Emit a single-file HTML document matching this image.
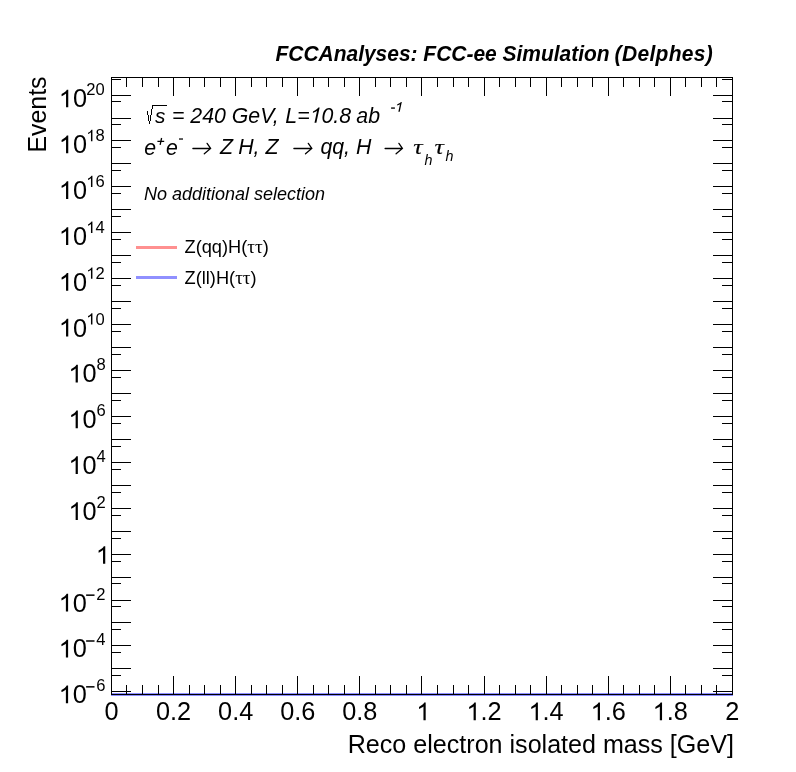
<!DOCTYPE html>
<html><head><meta charset="utf-8"><title>plot</title>
<style>html,body{margin:0;padding:0;background:#fff;}body{width:796px;height:772px;overflow:hidden;}svg{display:block;will-change:transform;-webkit-font-smoothing:antialiased;}text{font-family:"Liberation Sans",sans-serif;fill:#000;}.i{font-style:italic;}.b{font-weight:bold;}.sy{font-family:"Liberation Serif",serif;}</style>
</head><body>
<svg width="796" height="772" viewBox="0 0 796 772">
<defs><path id="one" d="M763 0H583V1147Q518 1085 412.5 1023T223 930V1104Q373 1175 485.5 1275.5T647 1472H763Z"/></defs>
<rect x="0" y="0" width="796" height="772" fill="#fff"/>
<g shape-rendering="crispEdges">
<rect x="111" y="693" width="622" height="3" fill="#ff9090"/>
<rect x="111" y="693" width="622" height="3" fill="#8c8cff"/>
<rect x="111" y="77" width="622" height="1" fill="#000"/>
<rect x="111" y="694" width="622" height="1" fill="#000"/>
<rect x="111" y="77" width="1" height="618" fill="#000"/>
<rect x="732" y="77" width="1" height="618" fill="#000"/>
<rect x="126" y="685" width="1" height="10" fill="#000"/>
<rect x="126" y="77" width="1" height="10" fill="#000"/>
<rect x="142" y="685" width="1" height="10" fill="#000"/>
<rect x="142" y="77" width="1" height="10" fill="#000"/>
<rect x="158" y="685" width="1" height="10" fill="#000"/>
<rect x="158" y="77" width="1" height="10" fill="#000"/>
<rect x="173" y="676" width="1" height="19" fill="#000"/>
<rect x="173" y="77" width="1" height="19" fill="#000"/>
<rect x="189" y="685" width="1" height="10" fill="#000"/>
<rect x="189" y="77" width="1" height="10" fill="#000"/>
<rect x="204" y="685" width="1" height="10" fill="#000"/>
<rect x="204" y="77" width="1" height="10" fill="#000"/>
<rect x="220" y="685" width="1" height="10" fill="#000"/>
<rect x="220" y="77" width="1" height="10" fill="#000"/>
<rect x="235" y="676" width="1" height="19" fill="#000"/>
<rect x="235" y="77" width="1" height="19" fill="#000"/>
<rect x="251" y="685" width="1" height="10" fill="#000"/>
<rect x="251" y="77" width="1" height="10" fill="#000"/>
<rect x="266" y="685" width="1" height="10" fill="#000"/>
<rect x="266" y="77" width="1" height="10" fill="#000"/>
<rect x="282" y="685" width="1" height="10" fill="#000"/>
<rect x="282" y="77" width="1" height="10" fill="#000"/>
<rect x="297" y="676" width="1" height="19" fill="#000"/>
<rect x="297" y="77" width="1" height="19" fill="#000"/>
<rect x="313" y="685" width="1" height="10" fill="#000"/>
<rect x="313" y="77" width="1" height="10" fill="#000"/>
<rect x="328" y="685" width="1" height="10" fill="#000"/>
<rect x="328" y="77" width="1" height="10" fill="#000"/>
<rect x="344" y="685" width="1" height="10" fill="#000"/>
<rect x="344" y="77" width="1" height="10" fill="#000"/>
<rect x="359" y="676" width="1" height="19" fill="#000"/>
<rect x="359" y="77" width="1" height="19" fill="#000"/>
<rect x="375" y="685" width="1" height="10" fill="#000"/>
<rect x="375" y="77" width="1" height="10" fill="#000"/>
<rect x="390" y="685" width="1" height="10" fill="#000"/>
<rect x="390" y="77" width="1" height="10" fill="#000"/>
<rect x="406" y="685" width="1" height="10" fill="#000"/>
<rect x="406" y="77" width="1" height="10" fill="#000"/>
<rect x="421" y="676" width="1" height="19" fill="#000"/>
<rect x="421" y="77" width="1" height="19" fill="#000"/>
<rect x="437" y="685" width="1" height="10" fill="#000"/>
<rect x="437" y="77" width="1" height="10" fill="#000"/>
<rect x="453" y="685" width="1" height="10" fill="#000"/>
<rect x="453" y="77" width="1" height="10" fill="#000"/>
<rect x="468" y="685" width="1" height="10" fill="#000"/>
<rect x="468" y="77" width="1" height="10" fill="#000"/>
<rect x="484" y="676" width="1" height="19" fill="#000"/>
<rect x="484" y="77" width="1" height="19" fill="#000"/>
<rect x="499" y="685" width="1" height="10" fill="#000"/>
<rect x="499" y="77" width="1" height="10" fill="#000"/>
<rect x="515" y="685" width="1" height="10" fill="#000"/>
<rect x="515" y="77" width="1" height="10" fill="#000"/>
<rect x="530" y="685" width="1" height="10" fill="#000"/>
<rect x="530" y="77" width="1" height="10" fill="#000"/>
<rect x="546" y="676" width="1" height="19" fill="#000"/>
<rect x="546" y="77" width="1" height="19" fill="#000"/>
<rect x="561" y="685" width="1" height="10" fill="#000"/>
<rect x="561" y="77" width="1" height="10" fill="#000"/>
<rect x="577" y="685" width="1" height="10" fill="#000"/>
<rect x="577" y="77" width="1" height="10" fill="#000"/>
<rect x="592" y="685" width="1" height="10" fill="#000"/>
<rect x="592" y="77" width="1" height="10" fill="#000"/>
<rect x="608" y="676" width="1" height="19" fill="#000"/>
<rect x="608" y="77" width="1" height="19" fill="#000"/>
<rect x="623" y="685" width="1" height="10" fill="#000"/>
<rect x="623" y="77" width="1" height="10" fill="#000"/>
<rect x="639" y="685" width="1" height="10" fill="#000"/>
<rect x="639" y="77" width="1" height="10" fill="#000"/>
<rect x="654" y="685" width="1" height="10" fill="#000"/>
<rect x="654" y="77" width="1" height="10" fill="#000"/>
<rect x="670" y="676" width="1" height="19" fill="#000"/>
<rect x="670" y="77" width="1" height="19" fill="#000"/>
<rect x="685" y="685" width="1" height="10" fill="#000"/>
<rect x="685" y="77" width="1" height="10" fill="#000"/>
<rect x="701" y="685" width="1" height="10" fill="#000"/>
<rect x="701" y="77" width="1" height="10" fill="#000"/>
<rect x="716" y="685" width="1" height="10" fill="#000"/>
<rect x="716" y="77" width="1" height="10" fill="#000"/>
<rect x="111" y="691" width="20" height="1" fill="#000"/>
<rect x="713" y="691" width="20" height="1" fill="#000"/>
<rect x="111" y="675" width="10" height="1" fill="#000"/>
<rect x="722" y="675" width="11" height="1" fill="#000"/>
<rect x="111" y="668" width="20" height="1" fill="#000"/>
<rect x="713" y="668" width="20" height="1" fill="#000"/>
<rect x="111" y="652" width="10" height="1" fill="#000"/>
<rect x="722" y="652" width="11" height="1" fill="#000"/>
<rect x="111" y="645" width="20" height="1" fill="#000"/>
<rect x="713" y="645" width="20" height="1" fill="#000"/>
<rect x="111" y="629" width="10" height="1" fill="#000"/>
<rect x="722" y="629" width="11" height="1" fill="#000"/>
<rect x="111" y="622" width="20" height="1" fill="#000"/>
<rect x="713" y="622" width="20" height="1" fill="#000"/>
<rect x="111" y="606" width="10" height="1" fill="#000"/>
<rect x="722" y="606" width="11" height="1" fill="#000"/>
<rect x="111" y="600" width="20" height="1" fill="#000"/>
<rect x="713" y="600" width="20" height="1" fill="#000"/>
<rect x="111" y="583" width="10" height="1" fill="#000"/>
<rect x="722" y="583" width="11" height="1" fill="#000"/>
<rect x="111" y="577" width="20" height="1" fill="#000"/>
<rect x="713" y="577" width="20" height="1" fill="#000"/>
<rect x="111" y="561" width="10" height="1" fill="#000"/>
<rect x="722" y="561" width="11" height="1" fill="#000"/>
<rect x="111" y="554" width="20" height="1" fill="#000"/>
<rect x="713" y="554" width="20" height="1" fill="#000"/>
<rect x="111" y="538" width="10" height="1" fill="#000"/>
<rect x="722" y="538" width="11" height="1" fill="#000"/>
<rect x="111" y="531" width="20" height="1" fill="#000"/>
<rect x="713" y="531" width="20" height="1" fill="#000"/>
<rect x="111" y="515" width="10" height="1" fill="#000"/>
<rect x="722" y="515" width="11" height="1" fill="#000"/>
<rect x="111" y="508" width="20" height="1" fill="#000"/>
<rect x="713" y="508" width="20" height="1" fill="#000"/>
<rect x="111" y="492" width="10" height="1" fill="#000"/>
<rect x="722" y="492" width="11" height="1" fill="#000"/>
<rect x="111" y="485" width="20" height="1" fill="#000"/>
<rect x="713" y="485" width="20" height="1" fill="#000"/>
<rect x="111" y="469" width="10" height="1" fill="#000"/>
<rect x="722" y="469" width="11" height="1" fill="#000"/>
<rect x="111" y="462" width="20" height="1" fill="#000"/>
<rect x="713" y="462" width="20" height="1" fill="#000"/>
<rect x="111" y="446" width="10" height="1" fill="#000"/>
<rect x="722" y="446" width="11" height="1" fill="#000"/>
<rect x="111" y="439" width="20" height="1" fill="#000"/>
<rect x="713" y="439" width="20" height="1" fill="#000"/>
<rect x="111" y="423" width="10" height="1" fill="#000"/>
<rect x="722" y="423" width="11" height="1" fill="#000"/>
<rect x="111" y="416" width="20" height="1" fill="#000"/>
<rect x="713" y="416" width="20" height="1" fill="#000"/>
<rect x="111" y="400" width="10" height="1" fill="#000"/>
<rect x="722" y="400" width="11" height="1" fill="#000"/>
<rect x="111" y="393" width="20" height="1" fill="#000"/>
<rect x="713" y="393" width="20" height="1" fill="#000"/>
<rect x="111" y="377" width="10" height="1" fill="#000"/>
<rect x="722" y="377" width="11" height="1" fill="#000"/>
<rect x="111" y="370" width="20" height="1" fill="#000"/>
<rect x="713" y="370" width="20" height="1" fill="#000"/>
<rect x="111" y="354" width="10" height="1" fill="#000"/>
<rect x="722" y="354" width="11" height="1" fill="#000"/>
<rect x="111" y="347" width="20" height="1" fill="#000"/>
<rect x="713" y="347" width="20" height="1" fill="#000"/>
<rect x="111" y="331" width="10" height="1" fill="#000"/>
<rect x="722" y="331" width="11" height="1" fill="#000"/>
<rect x="111" y="324" width="20" height="1" fill="#000"/>
<rect x="713" y="324" width="20" height="1" fill="#000"/>
<rect x="111" y="308" width="10" height="1" fill="#000"/>
<rect x="722" y="308" width="11" height="1" fill="#000"/>
<rect x="111" y="301" width="20" height="1" fill="#000"/>
<rect x="713" y="301" width="20" height="1" fill="#000"/>
<rect x="111" y="285" width="10" height="1" fill="#000"/>
<rect x="722" y="285" width="11" height="1" fill="#000"/>
<rect x="111" y="278" width="20" height="1" fill="#000"/>
<rect x="713" y="278" width="20" height="1" fill="#000"/>
<rect x="111" y="262" width="10" height="1" fill="#000"/>
<rect x="722" y="262" width="11" height="1" fill="#000"/>
<rect x="111" y="255" width="20" height="1" fill="#000"/>
<rect x="713" y="255" width="20" height="1" fill="#000"/>
<rect x="111" y="239" width="10" height="1" fill="#000"/>
<rect x="722" y="239" width="11" height="1" fill="#000"/>
<rect x="111" y="232" width="20" height="1" fill="#000"/>
<rect x="713" y="232" width="20" height="1" fill="#000"/>
<rect x="111" y="216" width="10" height="1" fill="#000"/>
<rect x="722" y="216" width="11" height="1" fill="#000"/>
<rect x="111" y="209" width="20" height="1" fill="#000"/>
<rect x="713" y="209" width="20" height="1" fill="#000"/>
<rect x="111" y="193" width="10" height="1" fill="#000"/>
<rect x="722" y="193" width="11" height="1" fill="#000"/>
<rect x="111" y="186" width="20" height="1" fill="#000"/>
<rect x="713" y="186" width="20" height="1" fill="#000"/>
<rect x="111" y="170" width="10" height="1" fill="#000"/>
<rect x="722" y="170" width="11" height="1" fill="#000"/>
<rect x="111" y="163" width="20" height="1" fill="#000"/>
<rect x="713" y="163" width="20" height="1" fill="#000"/>
<rect x="111" y="147" width="10" height="1" fill="#000"/>
<rect x="722" y="147" width="11" height="1" fill="#000"/>
<rect x="111" y="140" width="20" height="1" fill="#000"/>
<rect x="713" y="140" width="20" height="1" fill="#000"/>
<rect x="111" y="124" width="10" height="1" fill="#000"/>
<rect x="722" y="124" width="11" height="1" fill="#000"/>
<rect x="111" y="118" width="20" height="1" fill="#000"/>
<rect x="713" y="118" width="20" height="1" fill="#000"/>
<rect x="111" y="101" width="10" height="1" fill="#000"/>
<rect x="722" y="101" width="11" height="1" fill="#000"/>
<rect x="111" y="95" width="20" height="1" fill="#000"/>
<rect x="713" y="95" width="20" height="1" fill="#000"/>
<rect x="111" y="79" width="10" height="1" fill="#000"/>
<rect x="722" y="79" width="11" height="1" fill="#000"/>
</g>
<g shape-rendering="crispEdges">
<rect x="136" y="246" width="41" height="3" fill="#ff9090"/>
<rect x="136" y="276" width="41" height="3" fill="#9090ff"/>
</g>
<text transform="translate(275.50 61.00) scale(1 1.03)" font-size="20.97" class="b i">FCCAnalyses: FCC-ee Simulation</text>
<text transform="translate(614.60 61.00) scale(1 1.03)" font-size="21" class="b i" letter-spacing="0.33">(Delphes)</text>
<use href="#one" transform="translate(58.68 703.29) scale(0.01235 -0.01205)"/>
<text transform="translate(72.75 703.29) scale(1 1.015)" font-size="25.3">0</text>
<rect x="86.12" y="686.09" width="8.4" height="1.5" fill="#000"/>
<text transform="translate(96.37 691.29) scale(1 0.99)" font-size="16.6">6</text>
<use href="#one" transform="translate(58.68 657.45) scale(0.01235 -0.01205)"/>
<text transform="translate(72.75 657.45) scale(1 1.015)" font-size="25.3">0</text>
<rect x="86.12" y="640.25" width="8.4" height="1.5" fill="#000"/>
<text transform="translate(96.37 645.45) scale(1 0.99)" font-size="16.6">4</text>
<use href="#one" transform="translate(58.68 611.61) scale(0.01235 -0.01205)"/>
<text transform="translate(72.75 611.61) scale(1 1.015)" font-size="25.3">0</text>
<rect x="86.12" y="594.41" width="8.4" height="1.5" fill="#000"/>
<text transform="translate(96.37 599.61) scale(1 0.99)" font-size="16.6">2</text>
<use href="#one" transform="translate(95.83 563.87) scale(0.01235 -0.01205)"/>
<use href="#one" transform="translate(68.43 519.93) scale(0.01235 -0.01205)"/>
<text transform="translate(82.50 519.93) scale(1 1.015)" font-size="25.3">0</text>
<text transform="translate(96.57 507.93) scale(1 0.99)" font-size="16.6">2</text>
<use href="#one" transform="translate(68.43 474.09) scale(0.01235 -0.01205)"/>
<text transform="translate(82.50 474.09) scale(1 1.015)" font-size="25.3">0</text>
<text transform="translate(96.57 462.09) scale(1 0.99)" font-size="16.6">4</text>
<use href="#one" transform="translate(68.43 428.25) scale(0.01235 -0.01205)"/>
<text transform="translate(82.50 428.25) scale(1 1.015)" font-size="25.3">0</text>
<text transform="translate(96.57 416.25) scale(1 0.99)" font-size="16.6">6</text>
<use href="#one" transform="translate(68.43 382.41) scale(0.01235 -0.01205)"/>
<text transform="translate(82.50 382.41) scale(1 1.015)" font-size="25.3">0</text>
<text transform="translate(96.57 370.41) scale(1 0.99)" font-size="16.6">8</text>
<use href="#one" transform="translate(58.84 336.57) scale(0.01235 -0.01205)"/>
<text transform="translate(72.92 336.57) scale(1 1.015)" font-size="25.3">0</text>
<use href="#one" transform="translate(86.24 324.57) scale(0.00811 -0.00771)"/>
<text transform="translate(95.47 324.57) scale(1 0.99)" font-size="16.6">0</text>
<use href="#one" transform="translate(58.84 290.73) scale(0.01235 -0.01205)"/>
<text transform="translate(72.92 290.73) scale(1 1.015)" font-size="25.3">0</text>
<use href="#one" transform="translate(86.24 278.73) scale(0.00811 -0.00771)"/>
<text transform="translate(95.47 278.73) scale(1 0.99)" font-size="16.6">2</text>
<use href="#one" transform="translate(58.84 244.89) scale(0.01235 -0.01205)"/>
<text transform="translate(72.92 244.89) scale(1 1.015)" font-size="25.3">0</text>
<use href="#one" transform="translate(86.24 232.89) scale(0.00811 -0.00771)"/>
<text transform="translate(95.47 232.89) scale(1 0.99)" font-size="16.6">4</text>
<use href="#one" transform="translate(58.84 199.05) scale(0.01235 -0.01205)"/>
<text transform="translate(72.92 199.05) scale(1 1.015)" font-size="25.3">0</text>
<use href="#one" transform="translate(86.24 187.05) scale(0.00811 -0.00771)"/>
<text transform="translate(95.47 187.05) scale(1 0.99)" font-size="16.6">6</text>
<use href="#one" transform="translate(58.84 153.21) scale(0.01235 -0.01205)"/>
<text transform="translate(72.92 153.21) scale(1 1.015)" font-size="25.3">0</text>
<use href="#one" transform="translate(86.24 141.21) scale(0.00811 -0.00771)"/>
<text transform="translate(95.47 141.21) scale(1 0.99)" font-size="16.6">8</text>
<use href="#one" transform="translate(58.84 107.37) scale(0.01235 -0.01205)"/>
<text transform="translate(72.92 107.37) scale(1 1.015)" font-size="25.3">0</text>
<text transform="translate(86.24 95.37) scale(1 0.99)" font-size="16.6">20</text>
<text transform="translate(104.46 720.20) scale(1 1.015)" font-size="25.3">0</text>
<text transform="translate(155.99 720.20) scale(1 1.015)" font-size="25.3">0.2</text>
<text transform="translate(218.07 720.20) scale(1 1.015)" font-size="25.3">0.4</text>
<text transform="translate(280.15 720.20) scale(1 1.015)" font-size="25.3">0.6</text>
<text transform="translate(342.23 720.20) scale(1 1.015)" font-size="25.3">0.8</text>
<use href="#one" transform="translate(416.26 720.20) scale(0.01235 -0.01205)"/>
<use href="#one" transform="translate(466.39 720.20) scale(0.01235 -0.01205)"/>
<text transform="translate(480.47 720.20) scale(1 1.015)" font-size="25.3">.2</text>
<use href="#one" transform="translate(528.47 720.20) scale(0.01235 -0.01205)"/>
<text transform="translate(542.55 720.20) scale(1 1.015)" font-size="25.3">.4</text>
<use href="#one" transform="translate(590.55 720.20) scale(0.01235 -0.01205)"/>
<text transform="translate(604.63 720.20) scale(1 1.015)" font-size="25.3">.6</text>
<use href="#one" transform="translate(652.63 720.20) scale(0.01235 -0.01205)"/>
<text transform="translate(666.71 720.20) scale(1 1.015)" font-size="25.3">.8</text>
<text transform="translate(725.26 720.20) scale(1 1.015)" font-size="25.3">2</text>
<text transform="translate(734.00 752.80) scale(1 1.04)" font-size="25.1" text-anchor="end">Reco electron isolated mass [GeV]</text>
<text transform="translate(46.0,76.5) rotate(-90) scale(1 1.04)" font-size="24.9" text-anchor="end">Events</text>
<text x="155.00" y="123.20" font-size="20.8" class="i">s</text>
<text x="172.00" y="122.80" font-size="21.3" class="i">= 240 GeV,</text>
<text x="285.30" y="122.80" font-size="21.3" class="i">L=</text>
<use href="#one" transform="translate(308.40 122.80) skewX(-12) scale(0.01045 -0.01045)"/>
<text x="321.40" y="122.80" font-size="21.3" class="i">0.8</text>
<text x="356.30" y="122.80" font-size="21.3" class="i">ab</text>
<rect x="391.1" y="107.4" width="3.8" height="1.35" fill="#000"/>
<use href="#one" transform="translate(393.90 111.80) skewX(-12) scale(0.00764 -0.00664)"/>
<g shape-rendering="crispEdges" fill="#000"><rect x="152" y="105" width="15" height="1"/><rect x="152" y="105" width="1" height="4"/><rect x="151" y="109" width="1" height="6"/><rect x="150" y="115" width="1" height="6"/><rect x="149" y="121" width="1" height="3"/><rect x="148" y="115" width="1" height="6"/><rect x="147" y="111" width="1" height="4"/></g>
<text x="144.20" y="154.70" font-size="21.3" class="i">e</text>
<path d="M157.4 141.45 H164.2 M161.6 138.0 L160.15 144.9" fill="none" stroke="#000" stroke-width="1.3"/>
<text x="166.10" y="154.70" font-size="21.3" class="i">e</text>
<rect x="179.0" y="138.4" width="4.0" height="1.25" fill="#000"/>
<path d="M192.9 148.5 L210.0 148.5 M207.1 143.4 L210.6 148.5 L204.3 153.8" fill="none" stroke="#000" stroke-width="1.3" stroke-linecap="round" stroke-linejoin="miter"/>
<text x="220.00" y="154.10" font-size="21.3" class="i">Z</text>
<text x="238.20" y="154.10" font-size="21.3" class="i">H, Z</text>
<path d="M293.9 148.5 L311.2 148.5 M308.3 143.4 L311.8 148.5 L305.5 153.8" fill="none" stroke="#000" stroke-width="1.3" stroke-linecap="round" stroke-linejoin="miter"/>
<text x="320.40" y="154.10" font-size="21.3" class="i">qq, H</text>
<path d="M385.1 148.5 L401.8 148.5 M398.9 143.4 L402.4 148.5 L396.1 153.8" fill="none" stroke="#000" stroke-width="1.3" stroke-linecap="round" stroke-linejoin="miter"/>
<text transform="translate(413.2 154.1) scale(1.12 0.93)" font-size="23.3" class="i sy" stroke="#000" stroke-width="0.15">τ</text>
<text x="424.50" y="164.60" font-size="14.3" class="i">h</text>
<text transform="translate(434.4 154.1) scale(1.12 0.93)" font-size="23.3" class="i sy" stroke="#000" stroke-width="0.15">τ</text>
<text x="445.60" y="160.90" font-size="14.3" class="i">h</text>
<text x="144.00" y="200.10" font-size="18.0" class="i">No additional selection</text>
<text transform="translate(184.50 252.60) scale(1 1.03)" font-size="18.25">Z(qq)H(<tspan class="sy" font-size="19.2">ττ</tspan>)</text>
<text transform="translate(184.50 283.60) scale(1 1.03)" font-size="18.25">Z(ll)H(<tspan class="sy" font-size="19.2">ττ</tspan>)</text>
</svg>
</body></html>
